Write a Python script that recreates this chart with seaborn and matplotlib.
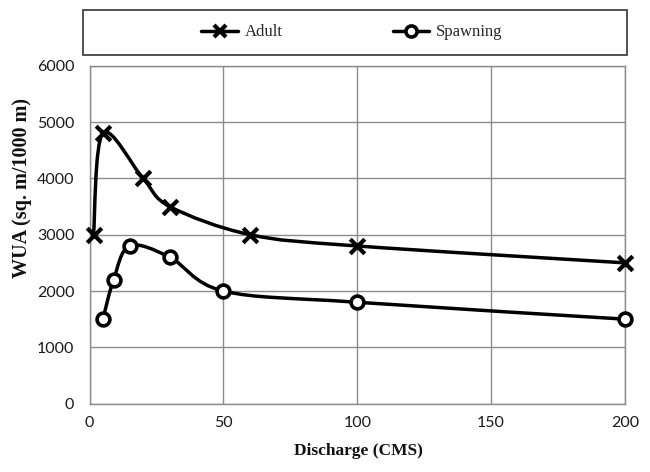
import numpy as np
import matplotlib
matplotlib.use("Agg")
import matplotlib.pyplot as plt
import seaborn as sns
from matplotlib.path import Path
from matplotlib.patches import PathPatch, Rectangle
from matplotlib.lines import Line2D

# data
adult_q = [1.5, 5, 20, 30, 60, 100, 200]
adult_wua = [3000, 4800, 4000, 3500, 3000, 2800, 2500]
spawn_q = [5, 9, 15, 30, 50, 100, 200]
spawn_wua = [1500, 2200, 2800, 2600, 2000, 1800, 1500]

x_ticks = [0, 50, 100, 150, 200]
y_ticks = [0, 1000, 2000, 3000, 4000, 5000, 6000]

SERIF = ["Liberation Serif", "DejaVu Serif"]
SANS = ["Lato", "DejaVu Sans"]
GRID = "#8c8c8c"


def smooth_path(x, y, k=1 / 6):
    # Excel-like smoothed line: cubic bezier through the points
    pts = np.column_stack([x, y]).astype(float)
    n = len(pts)
    verts = [pts[0]]
    codes = [Path.MOVETO]
    for i in range(n - 1):
        p0 = pts[max(i - 1, 0)]
        p1 = pts[i]
        p2 = pts[i + 1]
        p3 = pts[min(i + 2, n - 1)]
        verts += [p1 + (p2 - p0) * k, p2 - (p3 - p1) * k, p2]
        codes += [Path.CURVE4] * 3
    return Path(verts, codes)


sns.set_theme(style="white")
plt.rcParams["font.family"] = SANS

fig = plt.figure(figsize=(6.5, 4.72), dpi=100)
ax = fig.add_axes([0.1377, 0.1449, 0.8238, 0.7157])

for q, w in [(adult_q, adult_wua), (spawn_q, spawn_wua)]:
    ax.add_patch(PathPatch(smooth_path(q, w), facecolor="none",
                           edgecolor="black", lw=2.5, zorder=3,
                           capstyle="round", joinstyle="round"))

sns.scatterplot(x=adult_q, y=adult_wua, marker="x", s=110, color="black",
                linewidth=3, ax=ax, zorder=4, clip_on=False)
sns.scatterplot(x=spawn_q, y=spawn_wua, marker="o", s=85, color="white",
                edgecolor="black", linewidth=2.6, ax=ax, zorder=4,
                clip_on=False)

ax.set_xlim(0, 200)
ax.set_ylim(0, 6000)
ax.set_xticks(x_ticks)
ax.set_yticks(y_ticks)
ax.grid(True, color=GRID, lw=1)
for sp in ax.spines.values():
    sp.set_color(GRID)
    sp.set_linewidth(1)
ax.tick_params(direction="inout", length=6, width=1, color=GRID,
               labelsize=11.5, labelcolor="#1a1a1a", pad=6)
ax.tick_params(axis="y", pad=8)
ax.set_xlabel("")
ax.set_ylabel("")

fig.text(358 / 650, 1 - 451 / 472, "Discharge (CMS)", ha="center", va="center",
         family=SERIF, fontweight="bold", fontsize=12.5, color="#111")
fig.text(22 / 650, 1 - 188 / 472, "WUA (sq. m/1000 m)", ha="center",
         va="center", rotation=90, family=SERIF, fontweight="bold",
         fontsize=14.5, color="#111")

# legend box above the plot
fig.patches.append(Rectangle((83 / 650, 1 - 55 / 472), 544 / 650, 45 / 472,
                             transform=fig.transFigure, facecolor="white",
                             edgecolor="#333333", lw=1.2))
handles = [
    Line2D([], [], color="black", lw=2.5, marker="x", markersize=9,
           markeredgewidth=3),
    Line2D([], [], color="black", lw=2.5, marker="o", markersize=8,
           markerfacecolor="white", markeredgewidth=2.6),
]
fig.legend(handles, ["Adult", "Spawning"], loc="center",
           bbox_to_anchor=(352 / 650, 1 - 32.5 / 472), ncol=2, frameon=False,
           handlelength=2.2, handletextpad=0.4, columnspacing=6.6,
           prop={"family": SERIF, "size": 12})

fig.savefig("out.png", dpi=100)
